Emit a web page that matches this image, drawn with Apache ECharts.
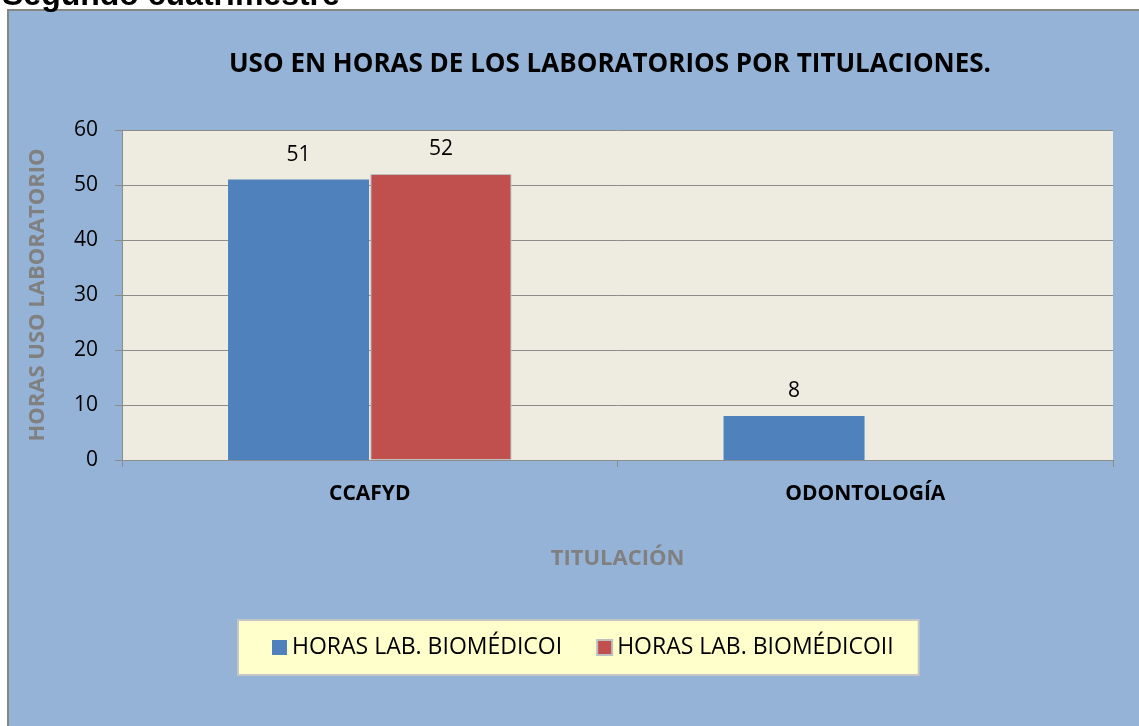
<!DOCTYPE html>
<html>
<head>
<meta charset="utf-8">
<script src="https://cdn.jsdelivr.net/npm/echarts@6/dist/echarts.min.js"></script>
<style>
  html, body { margin: 0; padding: 0; background: #ffffff; }
  #chart { width: 1139px; height: 726px; }
</style>
</head>
<body>
<div id="chart"></div>
<script>
const categories = ['CCAFYD', 'ODONTOLOGÍA'];
const seriesNames = ['HORAS LAB. BIOMÉDICOI', 'HORAS LAB. BIOMÉDICOII'];
const biomedicoI = [51, 8];
const biomedicoII = [52, null];
const yTicks = [0, 10, 20, 30, 40, 50, 60];

const font = 'Open Sans, Liberation Sans, sans-serif';

const chart = echarts.init(document.getElementById('chart'));

const option = {
  backgroundColor: '#ffffff',
  animation: false,
  title: {
    text: 'USO EN HORAS DE LOS LABORATORIOS POR TITULACIONES.',
    left: 605,
    top: 47,
    textAlign: 'center',
    textStyle: { fontFamily: font, fontSize: 26, fontWeight: 'bold', color: '#000000' }
  },
  graphic: [
    {
      type: 'rect',
      z: -10,
      shape: { x: 8, y: 10, width: 1140, height: 730 },
      style: { fill: '#95b3d7', stroke: '#868686', lineWidth: 2 }
    },
    {
      type: 'text',
      left: 2,
      top: -20,
      style: {
        text: 'Segundo cuatrimestre',
        fontFamily: 'Liberation Sans, Arial, sans-serif',
        fontSize: 32,
        fontWeight: 'bold',
        fill: '#000000'
      }
    }
  ],
  legend: {
    left: 238,
    top: 620,
    padding: [16, 25, 16, 34],
    itemGap: 34,
    itemWidth: 15,
    itemHeight: 15,
    icon: 'rect',
    backgroundColor: '#ffffcc',
    borderColor: '#c6c6c6',
    borderWidth: 2,
    textStyle: { fontFamily: font, fontSize: 23, color: '#000000' },
    data: seriesNames
  },
  grid: {
    left: 122,
    right: 26,
    top: 130,
    bottom: 266,
    show: true,
    backgroundColor: '#eeece1',
    borderColor: '#8c8c8c',
    borderWidth: 0
  },
  xAxis: {
    type: 'category',
    data: categories,
    name: 'TITULACIÓN',
    nameLocation: 'middle',
    nameGap: 88,
    nameTextStyle: { fontFamily: font, fontSize: 22, fontWeight: 'bold', color: '#808080' },
    axisLine: { lineStyle: { color: '#8c8c8c', width: 1 } },
    axisTick: { show: true, length: 7, lineStyle: { color: '#8c8c8c' } },
    axisLabel: { margin: 24, fontFamily: font, fontSize: 21, fontWeight: 'bold', color: '#000000' }
  },
  yAxis: {
    type: 'value',
    min: 0,
    max: 60,
    interval: 10,
    name: 'HORAS USO LABORATORIO',
    nameLocation: 'middle',
    nameRotate: 90,
    nameGap: 73,
    nameTextStyle: { fontFamily: font, fontSize: 22, fontWeight: 'bold', color: '#808080' },
    axisLine: { show: true, lineStyle: { color: '#8c8c8c', width: 1 } },
    axisTick: { show: true, inside: false, length: 7, lineStyle: { color: '#8c8c8c' } },
    axisLabel: {
      margin: 24,
      fontFamily: font,
      fontSize: 21,
      color: '#000000',
      formatter: function (v) { return yTicks.indexOf(v) >= 0 ? String(v) : ''; }
    },
    splitLine: { show: true, lineStyle: { color: '#8c8c8c', width: 1 } }
  },
  series: [
    {
      name: seriesNames[0],
      type: 'bar',
      data: biomedicoI,
      barWidth: 141,
      barGap: '1%',
      itemStyle: { color: '#4f81bd' },
      label: {
        show: true,
        position: 'top',
        distance: 14,
        fontFamily: font,
        fontSize: 21,
        color: '#000000'
      }
    },
    {
      name: seriesNames[1],
      type: 'bar',
      data: biomedicoII,
      barWidth: 141,
      itemStyle: { color: '#c0504d', borderColor: '#bfbfbf', borderWidth: 1 },
      label: {
        show: true,
        position: 'top',
        distance: 14,
        fontFamily: font,
        fontSize: 21,
        color: '#000000'
      }
    }
  ]
};

chart.setOption(option);
</script>
</body>
</html>
